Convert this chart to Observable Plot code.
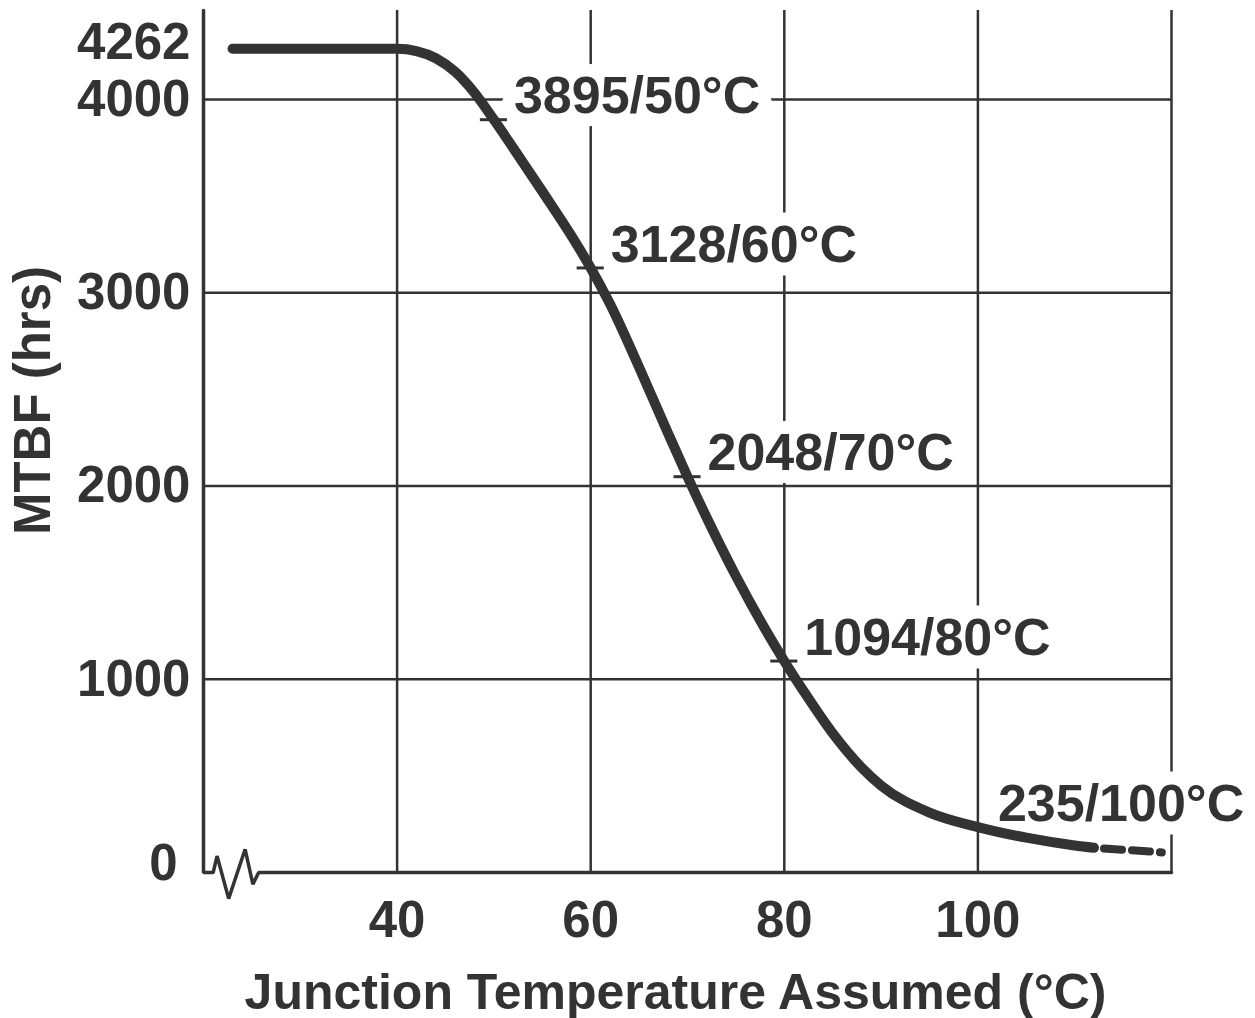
<!DOCTYPE html>
<html>
<head>
<meta charset="utf-8">
<script src="https://cdn.jsdelivr.net/npm/d3@7"></script>
<script src="https://cdn.jsdelivr.net/npm/@observablehq/plot@0.6"></script>
<style>
  body { margin: 0; background: #fff; }
  #chart svg { display: block; }
</style>
</head>
<body>
<div id="chart"></div>
<script>
// Curve: junction temperature (°C) vs MTBF (hrs)
const curveTemps = [23, 38, 40, 42, 44, 46, 48, 50, 52, 55, 58, 60, 62, 65, 68, 70, 72, 75, 78, 80, 82, 85, 88, 90, 95, 100, 105, 110, 112];
const curveMtbf  = [4262, 4262, 4262, 4250, 4213, 4143, 4034, 3895, 3748, 3524, 3295, 3128, 2941, 2614, 2272, 2048, 1834, 1534, 1261, 1094, 938, 720, 542, 450, 310, 235, 180, 140, 128];
// Extrapolated (dashed) tail
const dashTemps = [112, 119];
const dashMtbf  = [128, 104];
// Labelled points
const markTemps  = [50, 60, 70, 80, 100];
const markMtbf   = [3895, 3128, 2048, 1094, 235];
const markLabels = ["3895/50°C", "3128/60°C", "2048/70°C", "1094/80°C", "235/100°C"];
// Axes / grid
const xTicks = [40, 60, 80, 100];
const yTicks = [1000, 2000, 3000, 4000];
const yTopTick = [4262];
const gridX  = [40, 60, 80, 100, 120];
const gridY  = [1000, 2000, 3000, 4000];
// Left border, axis break symbol and bottom axis
const frameTemps = [20, 20, 21, 21.4, 22.6, 24.3, 25.1, 25.7, 120];
const frameMtbf  = [4460, 0, 0, 85, -135, 120, -60, 0, 0];
const xTitle = "Junction Temperature Assumed (°C)";
const yTitle = "MTBF (hrs)";

const ink = "#333";
const curve = curveTemps.map((t, i) => ({t, m: curveMtbf[i]}));
const dash = dashTemps.map((t, i) => ({t, m: dashMtbf[i]}));
const marks = markTemps.map((t, i) => ({t, m: markMtbf[i], label: markLabels[i]}));
const frame = frameTemps.map((t, i) => ({t, m: frameMtbf[i]}));
const font = {fill: ink, fontSize: 51, fontWeight: "bold"};

const chart = Plot.plot({
  width: 1255,
  height: 1018,
  marginTop: 10,
  marginBottom: 146,
  marginLeft: 203,
  marginRight: 84,
  style: {fontFamily: "'Liberation Sans', Arial, sans-serif", fontWeight: "bold", fontSize: "51px", color: ink, background: "white"},
  x: {domain: [20, 120]},
  y: {domain: [0, 4460]},
  marks: [
    Plot.ruleX(gridX, {y1: 0, y2: 4460, stroke: ink, strokeWidth: 2.5}),
    Plot.ruleY(gridY, {x1: 20, x2: 120, stroke: ink, strokeWidth: 2.5}),
    Plot.line(frame, {x: "t", y: "m", stroke: ink, strokeWidth: 3.5, strokeLinejoin: "miter"}),
    Plot.text(marks, {x: "t", y: "m", text: "label", dx: 20, dy: -23, textAnchor: "start", lineAnchor: "middle",
      stroke: "white", strokeWidth: 26, strokeLinejoin: "round", ...font, fontSize: 52}),
    Plot.line(curve, {x: "t", y: "m", curve: "monotone-x", stroke: ink, strokeWidth: 10, strokeLinecap: "round", strokeLinejoin: "round"}),
    Plot.line(dash, {x: "t", y: "m", stroke: ink, strokeWidth: 8, strokeDasharray: "18,10", strokeDashoffset: 18}),
    Plot.ruleY(marks, {y: "m", x1: d => d.t - 1.4, x2: d => d.t + 1.4, stroke: ink, strokeWidth: 3}),
    Plot.axisY(yTicks, {tickSize: 0, tickPadding: 13, fontSize: 51, fontWeight: "bold", tickFormat: d => String(d), label: null}),
    Plot.text(yTopTick, {y: d => d, text: d => String(d), frameAnchor: "left", dx: -13, dy: -6, textAnchor: "end", lineAnchor: "middle", ...font}),
    Plot.axisX(xTicks, {tickSize: 0, tickPadding: 28, fontSize: 51, fontWeight: "bold", tickFormat: d => String(d), label: null}),
    Plot.text(["0"], {frameAnchor: "bottom-left", dx: -26, dy: -9, textAnchor: "end", lineAnchor: "middle", ...font}),
    Plot.text([xTitle], {frameAnchor: "bottom", dx: -12, dy: 120, lineAnchor: "middle", ...font, fontSize: 50}),
    Plot.text([yTitle], {frameAnchor: "left", dx: -170, dy: -41, rotate: -90, textAnchor: "middle", lineAnchor: "middle", ...font})
  ]
});
document.getElementById("chart").appendChild(chart);
</script>
</body>
</html>
